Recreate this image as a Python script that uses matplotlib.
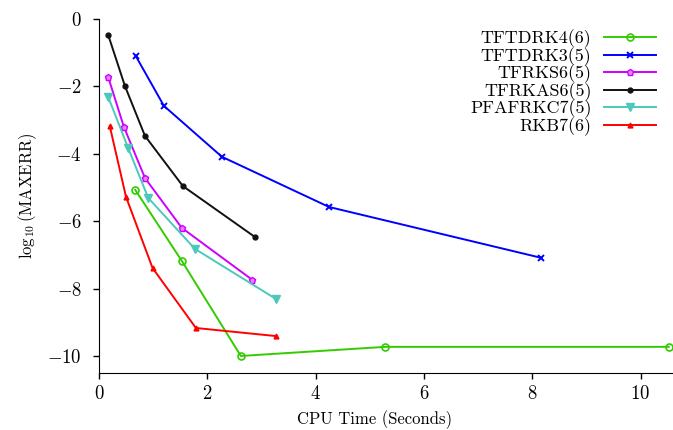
import matplotlib
matplotlib.use("Agg")
import matplotlib.pyplot as plt

plt.rcParams['font.family'] = 'serif'
plt.rcParams['font.serif'] = ['cmr10']
plt.rcParams['mathtext.fontset'] = 'cm'
plt.rcParams['axes.formatter.use_mathtext'] = True
plt.rcParams['font.size'] = 12

# --- Data (CPU time in seconds, log10 of max error) ---
labels = ['TFTDRK4(6)', 'TFTDRK3(5)', 'TFRKS6(5)', 'TFRKAS6(5)', 'PFAFRKC7(5)', 'RKB7(6)']

tftdrk4_t = [0.67, 1.53, 2.62, 5.29, 10.52]
tftdrk4_e = [-5.07, -7.18, -10.0, -9.73, -9.73]

tftdrk3_t = [0.68, 1.20, 2.27, 4.25, 8.17]
tftdrk3_e = [-1.10, -2.58, -4.09, -5.58, -7.09]

tfrks6_t = [0.17, 0.46, 0.85, 1.53, 2.83]
tfrks6_e = [-1.72, -3.20, -4.72, -6.20, -7.74]

tfrkas6_t = [0.17, 0.48, 0.85, 1.55, 2.88]
tfrkas6_e = [-0.47, -1.99, -3.47, -4.96, -6.47]

pfafrkc7_t = [0.17, 0.54, 0.91, 1.77, 3.27]
pfafrkc7_e = [-2.31, -3.83, -5.31, -6.82, -8.31]

rkb7_t = [0.20, 0.50, 0.99, 1.79, 3.27]
rkb7_e = [-3.18, -5.28, -7.39, -9.17, -9.41]

fig = plt.figure(figsize=(6.73, 4.30), dpi=100)
ax = fig.add_axes([0.147, 0.133, 0.853, 0.823])

ax.plot(tftdrk4_t, tftdrk4_e, color='#33cc00', lw=1.4, marker='o', ms=5,
        mfc='none', mew=1.2, label=labels[0])
ax.plot(tftdrk3_t, tftdrk3_e, color='#0000ff', lw=1.4, marker='x', ms=5,
        mew=1.4, label=labels[1])
ax.plot(tfrks6_t, tfrks6_e, color='#cc00ff', lw=1.4, marker='p', ms=5,
        mfc='#e580ff', label=labels[2])
ax.plot(tfrkas6_t, tfrkas6_e, color='#111111', lw=1.4, marker='o', ms=3.5,
        label=labels[3])
ax.plot(pfafrkc7_t, pfafrkc7_e, color='#4cc8bc', lw=1.4, marker='v', ms=6,
        label=labels[4])
ax.plot(rkb7_t, rkb7_e, color='#ff0000', lw=1.4, marker='^', ms=3.5,
        label=labels[5])

ax.set_xlim(0, 10.6)
ax.set_ylim(-10.5, 0)
ax.set_xticks([0, 2, 4, 6, 8, 10])
ax.set_yticks([0, -2, -4, -6, -8, -10])
ax.spines['top'].set_visible(False)
ax.spines['right'].set_visible(False)
ax.tick_params(direction='out', length=4.5, width=1, labelsize=13.5)
ax.tick_params(axis='x', pad=4)
ax.tick_params(axis='y', pad=8)

ax.set_xlabel('CPU Time (Seconds)')
ax.xaxis.set_label_coords(0.48, -0.105)
ax.set_ylabel(r'$\log_{10}$(MAXERR)', labelpad=6)

ax.legend(loc='upper right', frameon=False, markerfirst=False, fontsize=13,
          handlelength=2.9, labelspacing=-0.07, borderaxespad=0.2,
          handletextpad=0.7, bbox_to_anchor=(0.99, 1.0))

fig.savefig('out.png', dpi=100)
